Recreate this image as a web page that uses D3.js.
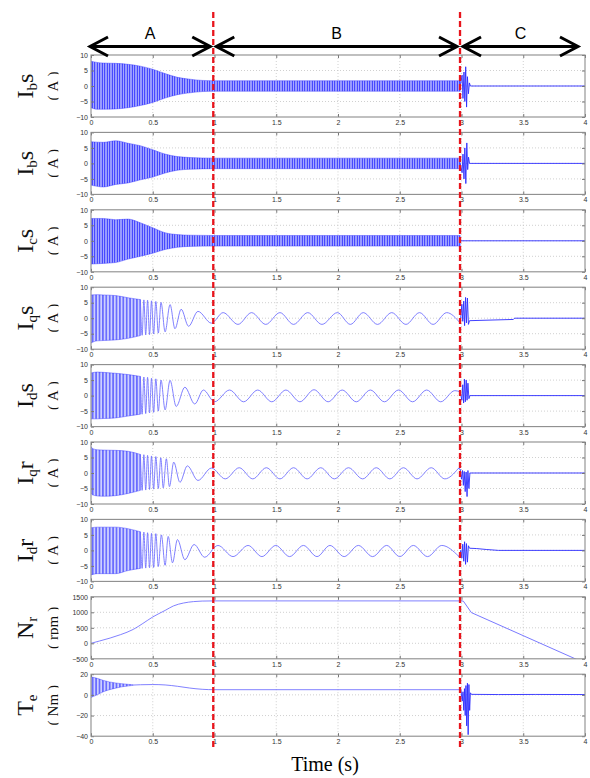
<!DOCTYPE html>
<html>
<head>
<meta charset="utf-8">
<script src="https://cdn.jsdelivr.net/npm/d3@7"></script>
<style>
  body { margin: 0; background: #fff; }
  svg { display: block; }
</style>
</head>
<body>
<svg id="chart" width="590" height="778"></svg>
<script>
// ---------- data ----------
const xTicks = [0, 0.5, 1, 1.5, 2, 2.5, 3, 3.5, 4];
const ampTicks = [-10, -5, 0, 5, 10];
const speedTicks = [-500, 0, 500, 1000, 1500];
const torqueTicks = [-40, -20, 0, 20];
const stageNames = ["A", "B", "C"];
const stageEdges = [0.99, 2.988];

// stator phase a (labelled I_bS in the figure)
const iaBandT  = [0, 0.05, 0.1, 0.2, 0.3, 0.4, 0.5, 0.6, 0.7, 0.8, 0.9, 1.0, 2.0, 2.99];
const iaBandHi = [8, 7.6, 7.4, 7.3, 7, 6.4, 5.4, 4, 2.8, 2.2, 1.8, 1.7, 1.7, 1.7];
const iaBandLo = [-7, -7.5, -7.5, -7.4, -7, -6.3, -5.3, -3.9, -2.8, -2.2, -1.8, -1.7, -1.7, -1.7];
const iaLineT  = [2.99, 3.005, 3.012, 3.02, 3.027, 3.034, 3.041, 3.048, 3.056, 3.064, 3.072, 4];
const iaLineV  = [0, 3.5, -4, 4.5, -5, 6.2, -6.8, 3, -2.5, 1, 0, 0];

// stator phase b
const ibBandT  = [0, 0.1, 0.2, 0.3, 0.4, 0.5, 0.6, 0.7, 0.8, 1.0, 2.99];
const ibBandHi = [7, 6.8, 7.3, 6.5, 5.7, 4.4, 3, 2.2, 1.9, 1.7, 1.7];
const ibBandLo = [-7, -7.6, -6.8, -6.3, -5.3, -4.4, -3.1, -2.2, -1.9, -1.7, -1.7];
const ibLineT  = [2.99, 3.005, 3.012, 3.02, 3.027, 3.035, 3.043, 3.05, 3.057, 3.065, 4];
const ibLineV  = [0, -3, 3, -5, 5, -6.5, 6.6, -2, 2, 0, 0];

// stator phase c
const icBandT  = [0, 0.1, 0.2, 0.3, 0.4, 0.5, 0.6, 0.7, 0.8, 1.0, 2.99];
const icBandHi = [7.2, 7.2, 6.8, 7, 5.8, 4.2, 2.6, 2, 1.8, 1.7, 1.7];
const icBandLo = [-7.5, -7.3, -7, -5.9, -5, -4, -2.8, -2.1, -1.8, -1.7, -1.7];
const icLineT  = [2.99, 4];
const icLineV  = [0, 0];

// stator q current
const iqsBandT  = [0, 0.05, 0.1, 0.2, 0.3, 0.4];
const iqsBandHi = [7.5, 7.6, 7.5, 7.3, 6.6, 6];
const iqsBandLo = [-8, -7.3, -7.2, -7, -6.5, -5.6];
const iqsWaveT  = [0.4, 0.414, 0.428, 0.443, 0.458, 0.474, 0.49, 0.507, 0.525, 0.545, 0.567, 0.6, 0.64, 0.68, 0.73, 0.79, 0.866, 0.975,
                   1.07, 1.19, 1.3, 1.415, 1.53, 1.64, 1.755, 1.87, 1.995, 2.1, 2.205, 2.32, 2.435, 2.55, 2.66, 2.77, 2.88, 2.99];
const iqsWaveV  = [6, -5.5, 5.9, -5.4, 5.8, -5.3, 5.6, -5.1, 5.4, -4.8, 5.1, -4.4, 4.4, -3.4, 2.9, -2.6, 2.2, -1.6,
                   1.8, -2, 1.8, -2, 1.8, -2, 1.8, -2, 1.8, -2, 1.8, -2, 1.8, -2, 1.8, -2, 1.8, -1.6];
const iqsLineT  = [2.99, 3.003, 3.01, 3.018, 3.025, 3.033, 3.04, 3.048, 3.056, 3.065, 3.42, 3.43, 4];
const iqsLineV  = [-1.6, 4.5, -1, 5.5, -2.4, 6.7, -1.5, 6.5, -2, -0.8, -0.4, 0, 0];

// stator d current
const idsBandT  = [0, 0.05, 0.1, 0.2, 0.3, 0.4];
const idsBandHi = [7.3, 7.6, 7.5, 7.2, 6.8, 6.2];
const idsBandLo = [-7.5, -7.5, -7.4, -7.2, -6.6, -6];
const idsWaveT  = [0.4, 0.414, 0.428, 0.443, 0.458, 0.474, 0.49, 0.507, 0.525, 0.545, 0.567, 0.6, 0.64, 0.69, 0.76, 0.84, 0.91, 1.0,
                   1.122, 1.236, 1.35, 1.464, 1.578, 1.692, 1.806, 1.92, 2.034, 2.148, 2.262, 2.376, 2.49, 2.604, 2.718, 2.832, 2.946, 2.99];
const idsWaveV  = [6.2, -6, 6, -5.8, 5.9, -5.6, 5.6, -5.4, 5.4, -5, 5, -4.6, 4.9, -3.5, 2.7, -2.7, 1.8, -2,
                   1.8, -2, 1.8, -2, 1.8, -2, 1.9, -2, 1.8, -2, 1.8, -2, 1.8, -2, 1.8, -2, 1.6, 1.2];
const idsLineT  = [2.99, 3.003, 3.01, 3.017, 3.024, 3.031, 3.038, 3.045, 3.052, 3.06, 3.068, 4];
const idsLineV  = [1.2, -1.5, 3.5, -2.4, 5.3, -2, 5, -1.5, 4, -1, 0, 0];

// rotor q current
const iqrBandT  = [0, 0.01, 0.05, 0.1, 0.2, 0.3, 0.4];
const iqrBandHi = [8.5, 8, 7.5, 7.4, 7.3, 7, 6];
const iqrBandLo = [-6.5, -7, -7.4, -7.5, -7.3, -6.6, -5.6];
const iqrWaveT  = [0.4, 0.414, 0.428, 0.443, 0.458, 0.474, 0.49, 0.507, 0.525, 0.545, 0.565, 0.585, 0.61, 0.635, 0.67, 0.72, 0.78, 0.866, 0.975,
                   1.087, 1.2, 1.31, 1.42, 1.53, 1.64, 1.75, 1.86, 1.97, 2.085, 2.2, 2.31, 2.42, 2.53, 2.64, 2.755, 2.865, 2.975];
const iqrWaveV  = [6, -5.6, 5.9, -5.5, 5.7, -5.3, 5.5, -5.2, 5.3, -5, 4.9, -4.8, 4.6, -4.4, 3.5, -3, 2.3, -2.4, 1.6,
                   -1.9, 1.7, -1.9, 1.7, -1.9, 1.7, -1.9, 1.7, -1.9, 1.7, -1.9, 1.7, -1.9, 1.7, -1.9, 1.7, -1.9, 1.5];
const iqrLineT  = [2.975, 2.99, 3.0, 3.008, 3.015, 3.022, 3.03, 3.037, 3.045, 3.052, 3.06, 3.068, 4];
const iqrLineV  = [1.5, 1.2, -2, 0.8, -4, 0.5, -6, 0.3, -7.6, 0.8, -5, 0, 0];

// rotor d current
const idrBandT  = [0, 0.05, 0.1, 0.2, 0.3, 0.4];
const idrBandHi = [7.3, 7.5, 7.5, 7.5, 7, 6];
const idrBandLo = [-7.9, -7.5, -7.5, -7.5, -6.5, -5.8];
const idrWaveT  = [0.4, 0.414, 0.428, 0.443, 0.458, 0.474, 0.49, 0.507, 0.525, 0.545, 0.57, 0.6, 0.625, 0.66, 0.7, 0.76, 0.835, 0.92,
                   1.028, 1.15, 1.272, 1.384, 1.496, 1.608, 1.72, 1.83, 1.935, 2.05, 2.165, 2.28, 2.394, 2.5, 2.61, 2.725, 2.84, 2.98];
const idrWaveV  = [6, -5.8, 5.9, -5.7, 5.7, -5.6, 5.5, -5.5, 5.4, -5.2, 5, -4.8, 4.5, -4, 3.5, -3, 1.9, -2.2,
                   1.6, -2, 1.6, -2, 1.6, -2, 1.6, -2, 1.6, -2, 1.6, -2, 1.6, -2, 1.6, -2, 1.6, -2];
const idrLineT  = [2.98, 2.995, 3.003, 3.01, 3.018, 3.025, 3.033, 3.04, 3.048, 3.056, 3.065, 3.12, 3.2, 3.3, 4];
const idrLineV  = [-2, 0, -2.5, 2, -3.5, 2.8, -4.5, 2.2, -3.8, 1.5, 0.7, 0.6, 0.3, 0, 0];

// rotor speed (rpm)
const speedT = [0, 0.07, 0.24, 0.343, 0.42, 0.5, 0.6, 0.667, 0.75, 0.83, 0.9, 1.0, 2.0, 3.0];
const speedV = [0, 75, 280, 450, 640, 850, 1060, 1205, 1300, 1345, 1362, 1368, 1368, 1368];
const speedTailT = [3.0, 3.015, 3.08, 4.0];
const speedTailV = [1368, 1360, 990, -640];

// electromagnetic torque (Nm)
const teBandT  = [0, 0.05, 0.1, 0.15, 0.2, 0.25, 0.3, 0.34];
const teBandHi = [17.5, 16, 14, 12.5, 11.5, 10.8, 10.2, 9.8];
const teBandLo = [-2.5, 0, 3, 5, 6.5, 7.8, 8.6, 9.2];
const teWaveT  = [0.34, 0.4, 0.5, 0.6, 0.7, 0.8, 0.9, 1.0, 2.0, 2.995];
const teWaveV  = [9.5, 9.8, 10, 9.6, 8.3, 6.6, 5.4, 5, 5, 5];
const teLineT  = [2.995, 3.006, 3.012, 3.018, 3.024, 3.03, 3.036, 3.042, 3.048, 3.054, 3.06, 3.066, 3.072, 3.08, 3.3, 3.6, 4];
const teLineV  = [5, -6, 3, -15, 6, -20, 9, -30, 11.3, -38.5, 10, -15, 2, 0.5, 0.3, 0.4, 0.3];

const panels = [
  { sym: "I", sub: "b", rest: "s", unit: "A", domain: [-10, 10], ticks: ampTicks, hatch: "hs",
    bandT: iaBandT, bandHi: iaBandHi, bandLo: iaBandLo, lineT: iaLineT, lineV: iaLineV },
  { sym: "I", sub: "b", rest: "s", unit: "A", domain: [-10, 10], ticks: ampTicks, hatch: "hs",
    bandT: ibBandT, bandHi: ibBandHi, bandLo: ibBandLo, lineT: ibLineT, lineV: ibLineV },
  { sym: "I", sub: "c", rest: "s", unit: "A", domain: [-10, 10], ticks: ampTicks, hatch: "hs",
    bandT: icBandT, bandHi: icBandHi, bandLo: icBandLo, lineT: icLineT, lineV: icLineV },
  { sym: "I", sub: "q", rest: "s", unit: "A", domain: [-10, 10], ticks: ampTicks, hatch: "hq",
    bandT: iqsBandT, bandHi: iqsBandHi, bandLo: iqsBandLo, waveT: iqsWaveT, waveV: iqsWaveV, lineT: iqsLineT, lineV: iqsLineV },
  { sym: "I", sub: "d", rest: "s", unit: "A", domain: [-10, 10], ticks: ampTicks, hatch: "hq",
    bandT: idsBandT, bandHi: idsBandHi, bandLo: idsBandLo, waveT: idsWaveT, waveV: idsWaveV, lineT: idsLineT, lineV: idsLineV },
  { sym: "I", sub: "q", rest: "r", unit: "A", domain: [-10, 10], ticks: ampTicks, hatch: "hq",
    bandT: iqrBandT, bandHi: iqrBandHi, bandLo: iqrBandLo, waveT: iqrWaveT, waveV: iqrWaveV, lineT: iqrLineT, lineV: iqrLineV },
  { sym: "I", sub: "d", rest: "r", unit: "A", domain: [-10, 10], ticks: ampTicks, hatch: "hq",
    bandT: idrBandT, bandHi: idrBandHi, bandLo: idrBandLo, waveT: idrWaveT, waveV: idrWaveV, lineT: idrLineT, lineV: idrLineV },
  { sym: "N", sub: "r", rest: "", unit: "rpm", domain: [-500, 1500], ticks: speedTicks,
    waveT: speedT, waveV: speedV, lineT: speedTailT, lineV: speedTailV, lineColor: "#6a6aff" },
  { sym: "T", sub: "e", rest: "", unit: "Nm", domain: [-40, 20], ticks: torqueTicks, hatch: "hq",
    bandT: teBandT, bandHi: teBandHi, bandLo: teBandLo, waveT: teWaveT, waveV: teWaveV, lineT: teLineT, lineV: teLineV }
];

// ---------- layout ----------
const left = 91, right = 585;
const panelTop = 55, panelStep = 77.4, panelH = 62;
const blue = "#2b2bff";

const svg = d3.select("#chart");
const defs = svg.append("defs");

function addHatch(id, w, bg, fg, sw) {
  const p = defs.append("pattern")
    .attr("id", id)
    .attr("patternUnits", "userSpaceOnUse")
    .attr("width", w)
    .attr("height", 20);
  p.append("rect").attr("width", w).attr("height", 20).attr("fill", bg);
  p.append("line")
    .attr("x1", w / 2).attr("x2", w / 2)
    .attr("y1", 0).attr("y2", 20)
    .attr("stroke", fg).attr("stroke-width", sw);
}
addHatch("hs", 2.5, "#b4b8ff", "#2020ff", 1.0);
addHatch("hq", 3.4, "#ccd0ff", "#2626ff", 1.0);

const x = d3.scaleLinear().domain([0, 4]).range([0, right - left]);
const w = right - left;

panels.forEach((p, i) => {
  const top = panelTop + i * panelStep;
  const y = d3.scaleLinear().domain(p.domain).range([panelH, 0]);
  const g = svg.append("g").attr("transform", `translate(${left},${top})`);

  defs.append("clipPath").attr("id", "clip" + i)
    .append("rect").attr("width", w).attr("height", panelH);

  // grid
  const grid = g.append("g")
    .attr("stroke", "#c4c4c4")
    .attr("stroke-width", 0.8)
    .attr("stroke-dasharray", "1,2");
  grid.selectAll("line.vx")
    .data(xTicks.slice(1, -1))
    .join("line")
    .attr("x1", d => x(d)).attr("x2", d => x(d))
    .attr("y1", 0).attr("y2", panelH);
  grid.selectAll("line.hy")
    .data(p.ticks.slice(1, -1))
    .join("line")
    .attr("x1", 0).attr("x2", w)
    .attr("y1", d => y(d)).attr("y2", d => y(d));

  const plot = g.append("g").attr("clip-path", `url(#clip${i})`);

  if (p.bandT) {
    const band = p.bandT.map((t, k) => ({ t, hi: p.bandHi[k], lo: p.bandLo[k] }));
    plot.append("path")
      .datum(band)
      .attr("fill", `url(#${p.hatch})`)
      .attr("stroke", blue)
      .attr("stroke-width", 0.4)
      .attr("d", d3.area().x(d => x(d.t)).y0(d => y(d.lo)).y1(d => y(d.hi)).curve(d3.curveMonotoneX));
  }
  if (p.waveT) {
    const wave = p.waveT.map((t, k) => ({ t, v: p.waveV[k] }));
    plot.append("path")
      .datum(wave)
      .attr("fill", "none")
      .attr("stroke", "#6a6aff")
      .attr("stroke-width", 0.85)
      .attr("d", d3.line().x(d => x(d.t)).y(d => y(d.v)).curve(d3.curveMonotoneX));
  }
  if (p.lineT) {
    const seg = p.lineT.map((t, k) => ({ t, v: p.lineV[k] }));
    plot.append("path")
      .datum(seg)
      .attr("fill", "none")
      .attr("stroke", p.lineColor || blue)
      .attr("stroke-width", 0.9)
      .attr("d", d3.line().x(d => x(d.t)).y(d => y(d.v)));
  }

  // axes
  const fmt = d3.format("");
  const axB = g.append("g").attr("transform", `translate(0,${panelH})`)
    .call(d3.axisBottom(x).tickValues(xTicks).tickFormat(fmt).tickSizeInner(-3).tickSizeOuter(0).tickPadding(3));
  const axL = g.append("g")
    .call(d3.axisLeft(y).tickValues(p.ticks).tickFormat(fmt).tickSizeInner(-3).tickSizeOuter(0).tickPadding(3));
  const axT = g.append("g")
    .call(d3.axisTop(x).tickValues(xTicks).tickFormat("").tickSizeInner(-3).tickSizeOuter(0));
  const axR = g.append("g").attr("transform", `translate(${w},0)`)
    .call(d3.axisRight(y).tickValues(p.ticks).tickFormat("").tickSizeInner(-3).tickSizeOuter(0));
  [axB, axL, axT, axR].forEach(a => {
    a.select(".domain").remove();
    a.selectAll("line").attr("stroke", "#777");
    a.selectAll("text").attr("fill", "#333").style("font", "7px 'Liberation Sans', Arial, sans-serif");
  });

  g.append("rect")
    .attr("width", w).attr("height", panelH)
    .attr("fill", "none").attr("stroke", "#8c8c8c").attr("stroke-width", 1.1);

  // y label, two rotated lines; the second one is cut at its baseline
  const cy = top + panelH / 2;
  const lab = svg.append("text")
    .attr("transform", `translate(33,${cy}) rotate(-90)`)
    .attr("text-anchor", "middle")
    .style("font-family", "'Liberation Serif', 'Times New Roman', serif")
    .style("font-size", "24px")
    .attr("fill", "#111");
  lab.append("tspan").text(p.sym);
  lab.append("tspan").attr("dy", 4).style("font-size", "15px").text(p.sub);
  if (p.rest) lab.append("tspan").attr("dy", -4).text(p.rest);

  defs.append("clipPath").attr("id", "uclip" + i)
    .append("rect").attr("x", 30).attr("y", top - 14).attr("width", 28.5).attr("height", panelH + 28);
  const unit = svg.append("g").attr("clip-path", `url(#uclip${i})`)
    .append("text")
    .attr("transform", `translate(58,${cy}) rotate(-90)`)
    .attr("text-anchor", "middle")
    .style("font-family", "'Liberation Serif', serif")
    .style("font-size", "15px")
    .attr("fill", "#111");
  unit.append("tspan").text("(");
  unit.append("tspan").attr("dx", 4).text(p.unit);
  unit.append("tspan").attr("dx", 4).text(")");
});

// stage boundaries
svg.append("g")
  .selectAll("line")
  .data(stageEdges)
  .join("line")
  .attr("x1", d => left + x(d)).attr("x2", d => left + x(d))
  .attr("y1", 12).attr("y2", 750)
  .attr("stroke", "#e8141c")
  .attr("stroke-width", 2.3)
  .attr("stroke-dasharray", "6,3");

// stage arrows
const spans = [[0, stageEdges[0]], [stageEdges[0], stageEdges[1]], [stageEdges[1], 4]];
const ay = 46.5, ah = 18, av = 9.5;
spans.forEach((s, k) => {
  const x1 = left + x(s[0]) + (k === 0 ? -1 : 3);
  const x2 = left + x(s[1]) - (k === 2 ? 7 : 3);
  svg.append("path")
    .attr("d", `M${x1},${ay}L${x2},${ay}M${x1 + ah},${ay - av}L${x1},${ay}L${x1 + ah},${ay + av}M${x2 - ah},${ay - av}L${x2},${ay}L${x2 - ah},${ay + av}`)
    .attr("fill", "none")
    .attr("stroke", "#000")
    .attr("stroke-width", 3);
  svg.append("text")
    .attr("x", (x1 + x2) / 2)
    .attr("y", 38.5)
    .attr("text-anchor", "middle")
    .style("font", "16px 'Liberation Sans', Arial, sans-serif")
    .text(stageNames[k]);
});

svg.append("text")
  .attr("x", 325).attr("y", 771)
  .attr("text-anchor", "middle")
  .style("font", "20px 'Liberation Serif', 'Times New Roman', serif")
  .text("Time (s)");
</script>
</body>
</html>
